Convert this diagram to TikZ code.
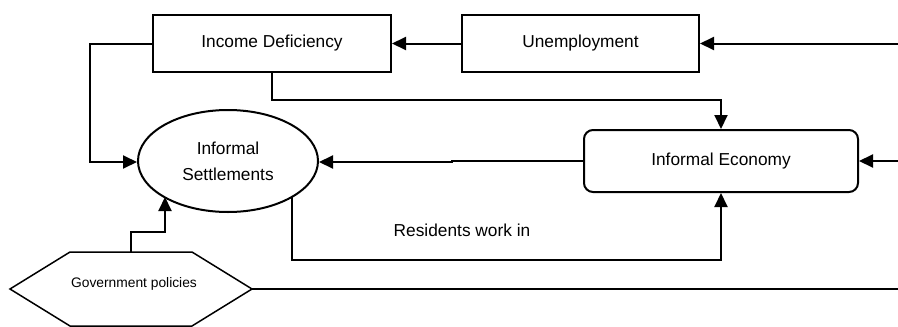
\documentclass[tikz,border=0pt]{standalone}
\usepackage{fontspec}
\setmainfont{Liberation Sans}
\usetikzlibrary{arrows.meta,shapes.geometric}
\begin{document}
\begin{tikzpicture}[x=1pt,y=-1pt,
  line width=2pt,
  arr/.style={-{Triangle[length=14pt,width=13pt]}},
  boxnode/.style={draw,minimum width=238pt,minimum height=57pt,inner sep=0pt,font=\fontsize{17.3}{18}\selectfont},
  roundnode/.style={boxnode,rounded corners=9pt,minimum width=274pt,minimum height=62pt},
  ellnode/.style={draw,ellipse,minimum width=180pt,minimum height=102pt,inner sep=0pt,align=center,font=\fontsize{17.3}{26}\selectfont},
  hexnode/.style={font=\fontsize{13.8}{15}\selectfont},
  lbl/.style={font=\fontsize{17.3}{18}\selectfont}]
\useasboundingbox (0,0) rectangle (898,327);

\node[boxnode] (inc) at (272,43.5) {Income Deficiency};
\node[boxnode,minimum width=237pt] (unemp) at (580.5,43.5) {Unemployment};
\node[ellnode] (set) at (228,161) {Informal\\Settlements};
\node[roundnode] (eco) at (721,161) {Informal Economy};

% hexagon for government policies
\coordinate (h1) at (10,289);
\coordinate (h2) at (70,252);
\coordinate (h3) at (192,252);
\coordinate (h4) at (252,289);
\coordinate (h5) at (192,326);
\coordinate (h6) at (70,326);
\draw[line width=1.5pt] (h1) -- (h2) -- (h3) -- (h4) -- (h5) -- (h6) -- cycle;
\node[hexnode] (gov) at (134,284) {Government policies};
\coordinate (govtop) at (131,252);

% free ends at the right margin
\coordinate (rin1) at (898,43.5);
\coordinate (rin2) at (898,161);
\coordinate (rin3) at (898,289);

\draw[arr] (rin1) -- (unemp.east);
\draw[arr] (unemp.west) -- (inc.west -| inc.east);
\draw[arr] (inc.west) -- (90,43.5) -- (90,162) -- (set.west |- 0,162);
\draw[arr] (inc.south) -- (272,100) -- (721,100) -- (eco.north);
\draw[arr] (eco.west) -- (452,161) -- (452,162) -- (set.east |- 0,162);
\draw[arr] (rin2) -- (eco.east);
\draw[arr] (292,196) -- (292,260) -- (721,260) -- (eco.south);
\draw[arr] (govtop) -- (131,232) -- (165,232) -- (165,197);
\draw (h4) -- (rin3);

\node[lbl] (res) at (462,230) {Residents work in};
\end{tikzpicture}
\end{document}
